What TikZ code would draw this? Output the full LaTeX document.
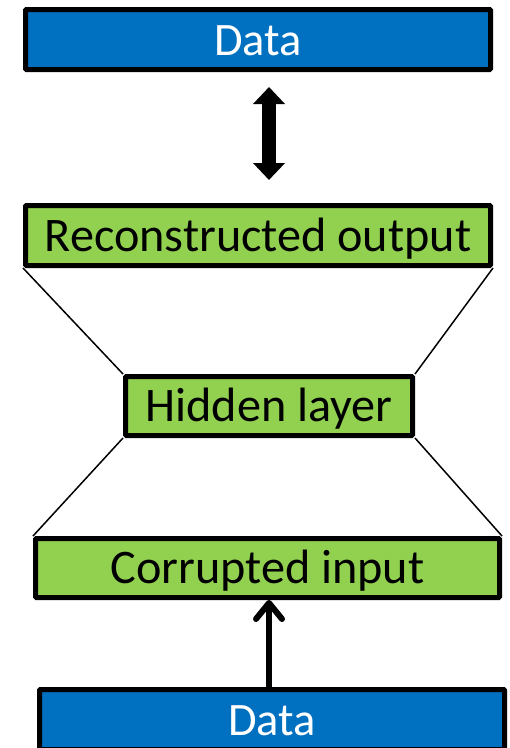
\documentclass[tikz,border=0pt]{standalone}
\usepackage{fontspec}
\setmainfont{Carlito}
\usetikzlibrary{arrows.meta}
\definecolor{datablue}{HTML}{0070C0}
\definecolor{layergreen}{HTML}{92D050}
\begin{document}
\begin{tikzpicture}[x=1pt,y=-1pt,
  box/.style={draw=black, line width=5pt, rectangle, rounded corners=1pt,
    inner sep=0pt, text height=31.5pt, text depth=0pt,
    font=\fontsize{48.2}{58}\selectfont},
  databox/.style={box, fill=datablue, text=white,
    font=\fontsize{46.5}{56}\selectfont},
  layerbox/.style={box, fill=layergreen, text=black},
  link/.style={line width=1.5pt, draw=black}]
\useasboundingbox (0,0) rectangle (510,748);

% data and network layers
\node[databox, minimum width=465pt, minimum height=60pt] (dtop) at (258,39.5) {Data};
\node[layerbox, minimum width=465pt, minimum height=60pt] (rec) at (258,235.5) {Reconstructed output};
\node[layerbox, minimum width=287pt, minimum height=59pt] (hid) at (269,406) {Hidden layer};
\node[layerbox, minimum width=464pt, minimum height=59pt] (cor) at (267.5,568) {Corrupted input};
\node[databox, minimum width=465pt, minimum height=60pt] (dbot) at (272,719.5) {Data};

% funnel edges between layers
\draw[link] (rec.south west) -- (hid.north west);
\draw[link] (rec.south east) -- (hid.north east);
\draw[link] (hid.south west) -- (cor.north west);
\draw[link] (hid.south east) -- (cor.north east);

% comparison of output and data
\draw[line width=14pt,
  {Triangle[length=17pt,width=31pt]}-{Triangle[length=17pt,width=31pt]},
  shorten <=15pt, shorten >=23pt]
  (dtop.south -| hid.center) -- (rec.north -| hid.center);

% data feeding the corrupted input
\draw[line width=6pt, -{Straight Barb[length=16pt,width=26pt,round]}]
  (dbot.north -| hid.center) -- (cor.south -| hid.center);
\end{tikzpicture}
\end{document}
